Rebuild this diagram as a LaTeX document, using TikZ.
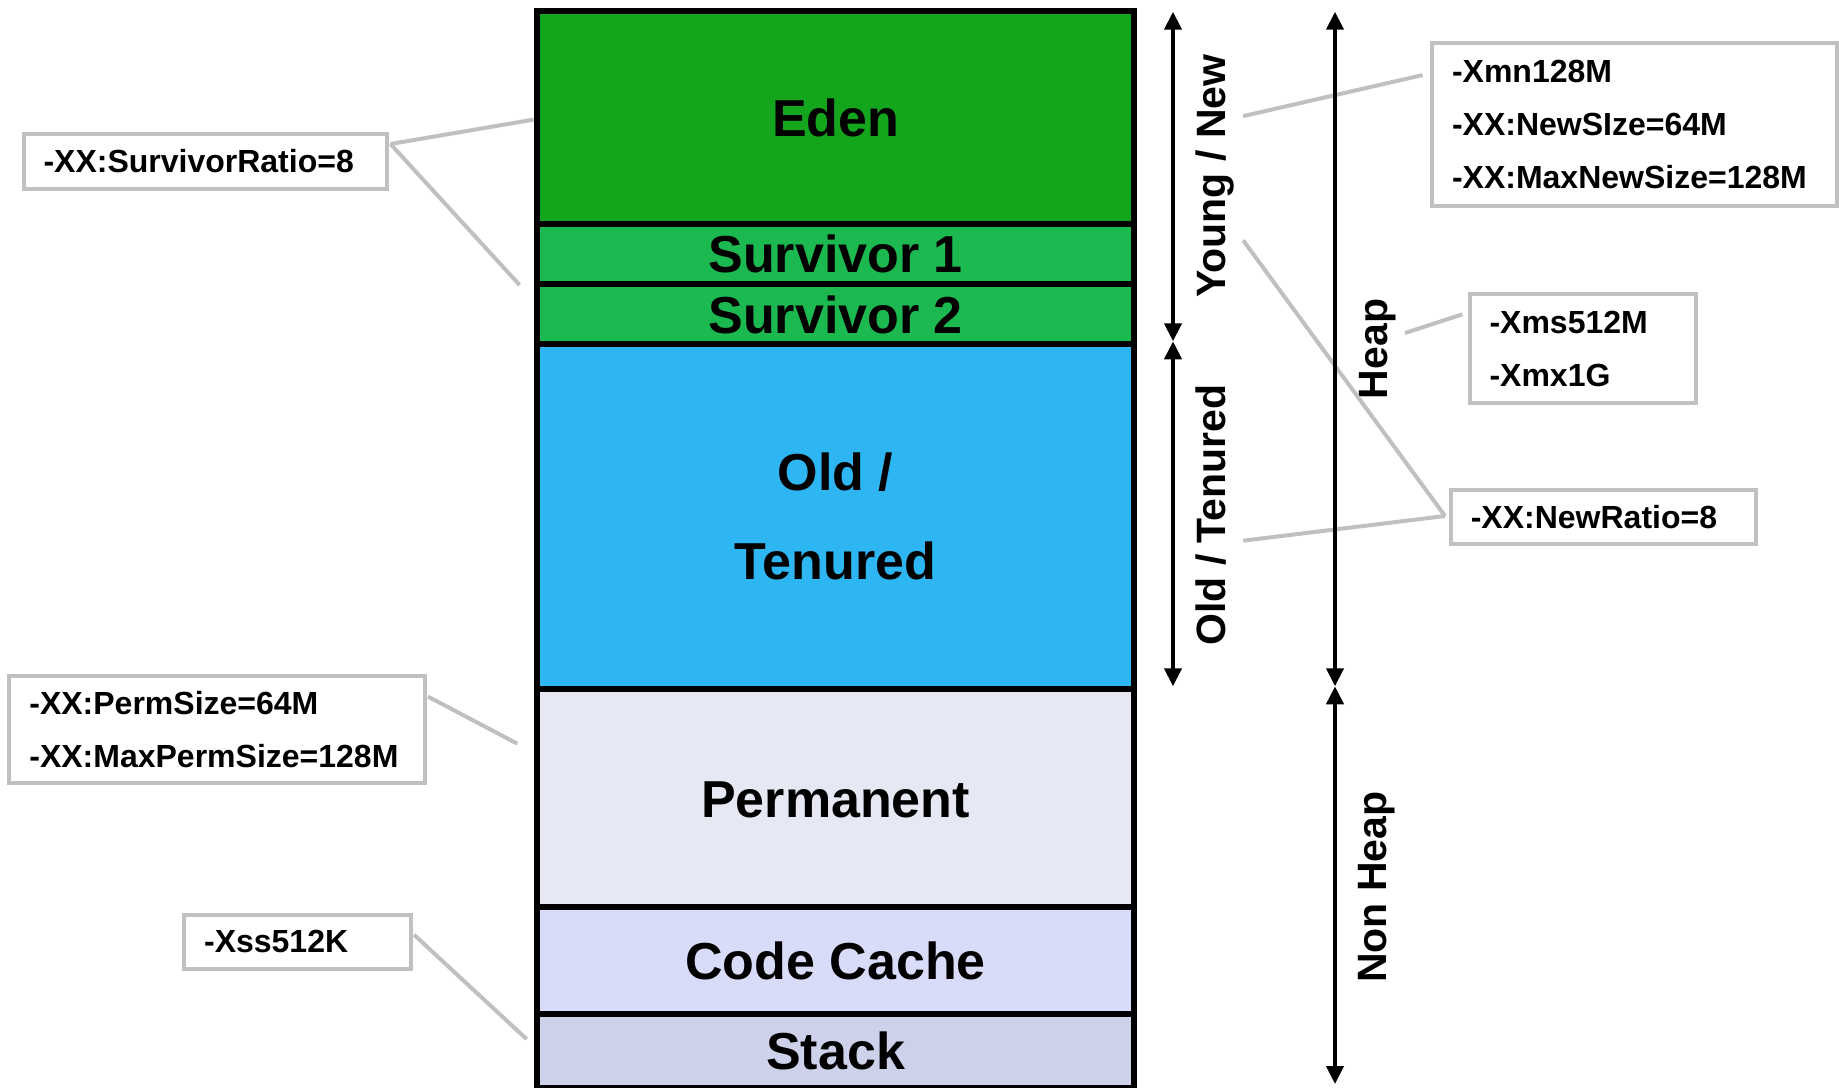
\documentclass[tikz,border=0pt]{standalone}
\usepackage{fontspec}
\setmainfont{Liberation Sans}
\usetikzlibrary{arrows.meta}

\definecolor{edenc}{RGB}{19,165,27}
\definecolor{survc}{RGB}{28,185,80}
\definecolor{oldc}{RGB}{45,182,242}
\definecolor{permc}{RGB}{230,232,244}
\definecolor{codec}{RGB}{217,220,248}
\definecolor{stackc}{RGB}{205,210,234}
\definecolor{callc}{RGB}{192,192,192}

\begin{document}
\begin{tikzpicture}[x=1pt,y=-1pt,
  region/.style={draw=black,line width=6pt,minimum width=597.6pt,inner sep=0pt,
    anchor=north west,align=center,font=\bfseries\fontsize{52}{89}\selectfont},
  oneline/.style={text height=37.5pt,text depth=0pt},
  callout/.style={draw=callc,line width=4pt,fill=white,inner xsep=20pt,inner ysep=0pt,
    align=left,font=\bfseries\fontsize{32}{53}\selectfont},
  axislabel/.style={rotate=90,inner sep=0pt,text height=29.5pt,text depth=0pt,
    font=\bfseries\fontsize{41}{48}\selectfont},
  connector/.style={draw=callc,line width=4pt},
  span/.style={draw=black,line width=4pt,
    {Triangle[length=18pt,width=17pt]}-{Triangle[length=18pt,width=17pt]}}
]
\useasboundingbox (0,0) rectangle (1839,1087);

% memory regions, top to bottom
\node[region,oneline,fill=edenc,minimum height=212.8pt] (eden) at (533.8,8) {Eden};
\node[region,oneline,fill=survc,minimum height=60.4pt] (surv1) at (533.8,220.8) {Survivor 1};
\node[region,oneline,fill=survc,minimum height=60.1pt] (surv2) at (533.8,281.2) {Survivor 2};
\node[region,fill=oldc,minimum height=345pt] (old) at (533.8,341.3) {Old /\\Tenured};
\node[region,oneline,fill=permc,minimum height=217.9pt] (perm) at (533.8,686.3) {Permanent};
\node[region,oneline,fill=codec,minimum height=106.8pt] (code) at (533.8,904.2) {Code Cache};
\node[region,oneline,fill=stackc,minimum height=73.8pt] (stack) at (533.8,1011) {Stack};

% span labels
\node[axislabel] (young) at (1210.4,176) {Young / New};
\node[axislabel] (tenured) at (1210.8,515) {Old / Tenured};
\node[axislabel] (heap) at (1373,349) {Heap};
\node[axislabel] (nonheap) at (1372,887) {Non Heap};

% option boxes
\node[callout,text width=323.5pt,minimum height=55.1pt] (sr) at (205.25,161.25) {-XX:SurvivorRatio=8};
\node[callout,text width=364.6pt,minimum height=163pt] (yn) at (1634.3,124.9)
  {-Xmn128M\\-XX:NewSIze=64M\\-XX:MaxNewSize=128M};
\node[callout,text width=186.4pt,minimum height=109pt] (hp) at (1582.7,348.9) {-Xms512M\\-Xmx1G};
\node[callout,text width=264.9pt,minimum height=54pt] (nr) at (1603.25,517.2) {-XX:NewRatio=8};
\node[callout,text width=375.2pt,minimum height=107.9pt] (pm) at (217,729.45)
  {-XX:PermSize=64M\\-XX:MaxPermSize=128M};
\node[callout,text width=186.4pt,minimum height=53.9pt] (xs) at (297.3,941.75) {-Xss512K};

% connector end points
\coordinate (sr-a) at (390.5,144);
\coordinate (eden-pt) at (533.6,119.6);
\coordinate (surv-pt) at (519.6,285);
\coordinate (yn-a) at (1422.6,75.1);
\coordinate (young-pt) at (1243.2,116.1);
\coordinate (hp-a) at (1462.5,314.3);
\coordinate (heap-pt) at (1405,333);
\coordinate (nr-a) at (1445,516);
\coordinate (tenured-pt) at (1243.2,540.7);
\coordinate (young-pt2) at (1243.2,240.4);
\coordinate (pm-a) at (428,696.6);
\coordinate (perm-pt) at (517.2,743.6);
\coordinate (xs-a) at (414,934.7);
\coordinate (stack-pt) at (526.6,1039.1);

\draw[connector] (sr-a) -- (eden-pt);
\draw[connector] (sr-a) -- (surv-pt);
\draw[connector] (yn-a) -- (young-pt);
\draw[connector] (hp-a) -- (heap-pt);
\draw[connector] (nr-a) -- (tenured-pt);
\draw[connector] (nr-a) -- (young-pt2);
\draw[connector] (pm-a) -- (perm-pt);
\draw[connector] (xs-a) -- (stack-pt);

% generation and heap extents
\coordinate (y-top) at (1173,11.7);
\coordinate (y-mid) at (1173,341.3);
\coordinate (y-bot) at (1173,686.3);
\coordinate (h-top) at (1335,11.7);
\coordinate (h-mid) at (1335,686.3);
\coordinate (h-bot) at (1335,1084);

\draw[span] (y-top) -- (y-mid);
\draw[span] (y-mid) -- (y-bot);
\draw[span] (h-top) -- (h-mid);
\draw[span] (h-mid) -- (h-bot);
\end{tikzpicture}
\end{document}
